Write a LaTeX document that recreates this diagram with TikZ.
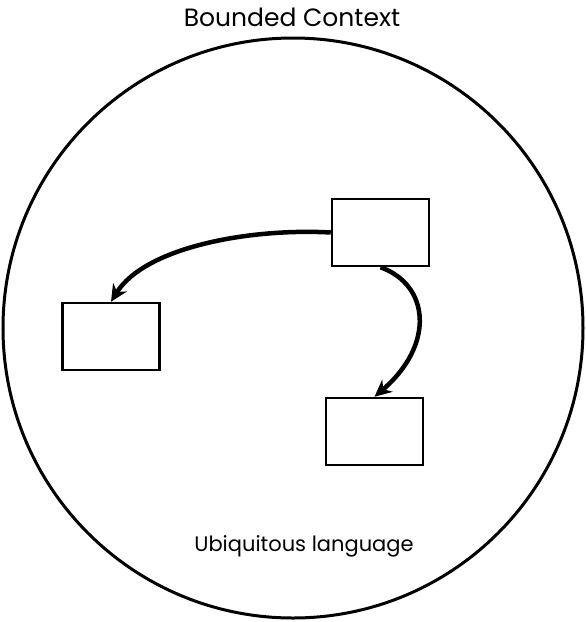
\documentclass[tikz,border=0pt]{standalone}
\usepackage{fontspec}
\setmainfont{Poppins}
\usetikzlibrary{positioning}
\usetikzlibrary{calc}
\usetikzlibrary{arrows.meta}

\begin{document}
\begin{tikzpicture}[x=1pt,y=-1pt,
    entity/.style={draw,line width=2.5pt,minimum width=97pt,minimum height=67pt,inner sep=0pt},
    link/.style={-{Stealth[length=17pt,width=16pt]},line width=4.5pt}]
    \useasboundingbox (0,0) rectangle (586,622);
    % the context
    \draw [line width=3pt] (293,328) circle [radius=290];
    \node (title) at (292,17) {\fontsize{25}{28}\selectfont Bounded Context};
    \node (lang) at (304,546) {\fontsize{21}{24}\selectfont Ubiquitous language};
    % the boxes
    \node [entity] (upper) at (380.5,232.5) {};
    \node [entity] (left) at (111,336.5) {};
    \node [entity] (lower) at (374.5,431.5) {};
    \draw [link] (upper.west) .. controls (250,228) and (145,247) .. (left.north);
    \draw [link] (upper.south) .. controls (430,285) and (435,345) .. (lower.north);
\end{tikzpicture}
\end{document}
